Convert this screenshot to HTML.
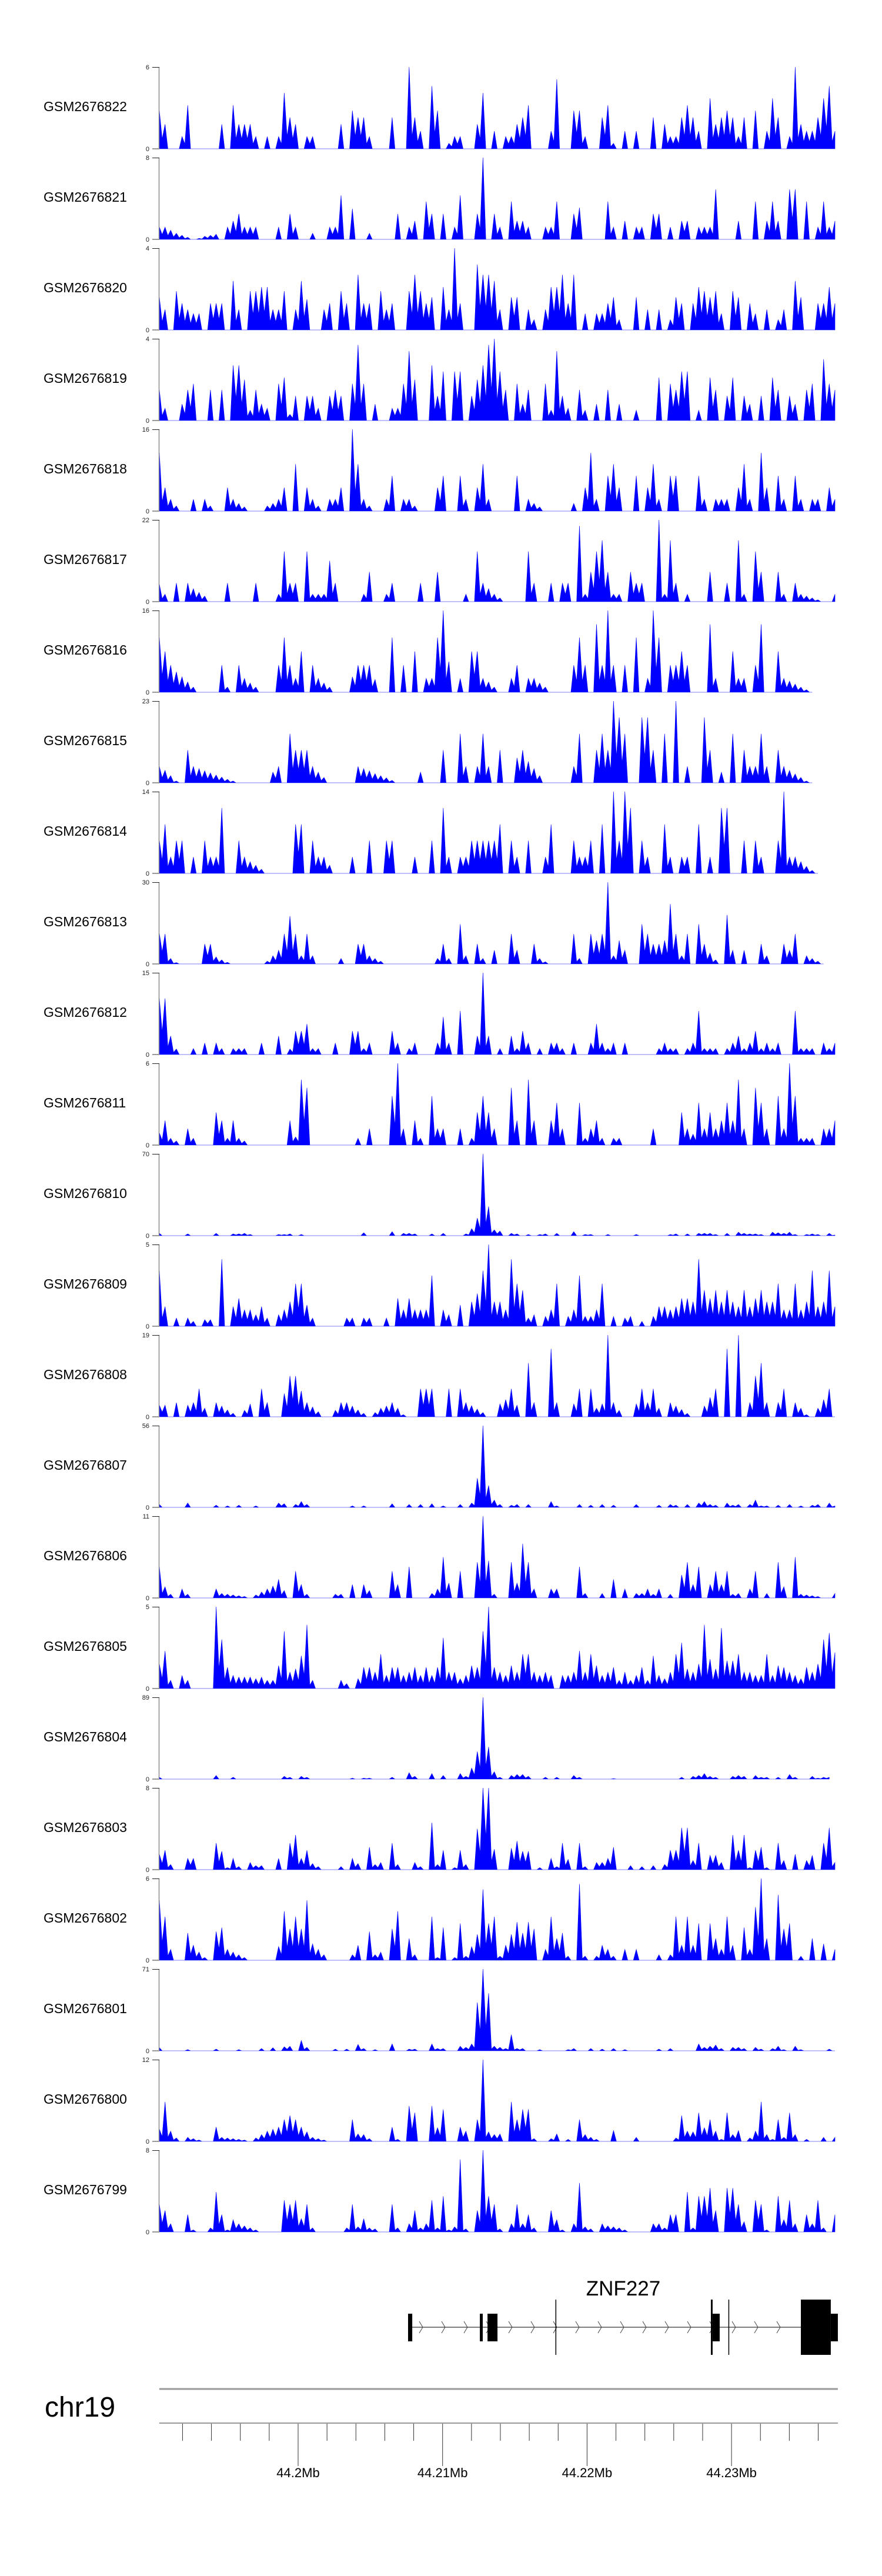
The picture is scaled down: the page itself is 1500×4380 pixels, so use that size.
<!DOCTYPE html>
<html>
<head>
<meta charset="utf-8">
<style>
html,body{margin:0;padding:0;background:#fff;}
body{width:1500px;height:4380px;overflow:hidden;}
svg{display:block;font-family:"Liberation Sans",sans-serif;}
</style>
</head>
<body>
<svg id="fig" width="1500" height="4380" viewBox="0 0 1500 4380" xmlns="http://www.w3.org/2000/svg">
<rect x="0" y="0" width="1500" height="4380" fill="#ffffff"/>
<g id="tracks"></g>
<g id="gene"></g>
<g id="axis"></g>
</svg>
<script>
const sampleNames = ["GSM2676822","GSM2676821","GSM2676820","GSM2676819","GSM2676818","GSM2676817","GSM2676816","GSM2676815","GSM2676814","GSM2676813","GSM2676812","GSM2676811","GSM2676810","GSM2676809","GSM2676808","GSM2676807","GSM2676806","GSM2676805","GSM2676804","GSM2676803","GSM2676802","GSM2676801","GSM2676800","GSM2676799"];
const yMax = [6,8,4,4,16,22,16,23,14,30,15,6,70,5,19,56,11,5,89,8,6,71,12,8];

const sig822 = [[0,2.8],[1,1.8],[4,0.9],[5,3.2],[11,1.8],[13,3.2],[14,1.8],[15,1.8],[16,1.8],[17,0.9],[19,0.9],[21,0.9],[22,4.1],[23,2.3],[24,1.8],[26,0.9],[27,0.9],[32,1.8],[34,2.8],[35,2.3],[36,2.3],[37,0.9],[41,2.3],[44,6],[45,2.3],[46,1.3],[48,4.6],[49,2.8],[51,0.4],[52,0.9],[53,0.9],[56,1.8],[57,4.1],[59,1.3],[61,0.9],[62,0.9],[63,1.8],[64,2.3],[65,3.2],[69,1.3],[70,5.1],[73,2.8],[74,2.8],[75,0.9],[78,2.3],[79,3.2],[80,0.4],[82,1.3],[84,1.3],[87,2.3],[89,1.8],[90,0.9],[91,0.9],[92,2.3],[93,3.2],[94,2.3],[95,1.3],[97,3.7],[98,1.8],[99,2.3],[100,2.8],[101,2.3],[102,0.9],[103,2.3],[105,2.8],[107,1.3],[108,3.7],[109,2.3],[111,0.9],[112,6],[113,1.8],[114,1.3],[115,1.3],[116,2.3],[117,3.7],[118,4.6],[119,1.3]];
const sig821 = [[0,1.2],[1,1.2],[2,0.9],[3,0.6],[4,0.4],[5,0.2],[7,0.1],[8,0.3],[9,0.4],[10,0.5],[12,1.2],[13,1.8],[14,2.5],[15,1.2],[16,1.2],[17,1.2],[21,1.2],[23,2.5],[24,1.2],[27,0.6],[30,1.2],[31,1.2],[32,4.3],[34,3.0],[37,0.6],[42,2.5],[44,1.2],[45,1.8],[47,3.7],[48,2.5],[50,2.5],[52,1.2],[53,4.3],[56,2.5],[57,8],[59,2.5],[60,1.2],[62,3.7],[63,1.8],[64,1.8],[65,1.2],[68,1.2],[69,1.2],[70,3.7],[73,2.5],[74,3.1],[79,3.7],[80,1.2],[82,1.8],[84,1.2],[85,1.2],[87,2.5],[88,2.5],[90,1.2],[92,1.8],[93,1.8],[95,1.2],[96,1.2],[97,1.2],[98,4.9],[102,1.8],[105,3.7],[107,1.8],[108,3.7],[109,1.8],[111,4.9],[112,4.9],[114,3.7],[116,1.2],[117,3.7],[118,1.2],[119,1.8]];
const sig820 = [[0,1.6],[1,1.0],[3,1.9],[4,1.3],[5,1.0],[6,0.8],[7,0.8],[9,1.3],[10,1.3],[11,1.3],[13,2.4],[14,1.0],[16,1.9],[17,1.9],[18,2.1],[19,2.1],[20,1.0],[21,1.0],[22,1.9],[24,1.0],[25,2.4],[26,1.5],[29,1.0],[30,1.3],[32,1.9],[33,1.3],[35,2.7],[36,1.3],[37,1.3],[39,1.9],[40,1.0],[41,1.3],[44,1.9],[45,2.7],[46,1.9],[47,1.3],[48,1.6],[50,2.1],[51,1.0],[52,4.0],[53,1.3],[56,3.2],[57,2.7],[58,2.7],[59,2.4],[60,1.0],[62,1.6],[63,1.6],[65,1.0],[66,0.5],[68,1.0],[69,2.1],[70,2.1],[71,2.7],[72,1.3],[73,2.7],[75,0.8],[77,0.8],[78,0.8],[79,1.3],[80,1.6],[81,0.5],[84,1.6],[86,1.0],[88,1.0],[90,0.5],[91,1.6],[92,1.3],[94,1.3],[95,2.1],[96,1.9],[97,1.6],[98,1.9],[99,0.8],[101,1.9],[102,1.6],[104,1.3],[105,0.8],[107,1.0],[109,0.5],[110,1.0],[112,2.4],[113,1.6],[116,1.3],[117,1.3],[118,2.1],[119,1.3]];
const sig819 = [[0,1.5],[1,0.6],[4,0.8],[5,1.5],[6,1.8],[9,1.5],[11,1.5],[13,2.7],[14,2.7],[15,2.0],[16,0.5],[17,1.5],[18,0.8],[19,0.6],[21,1.8],[22,2.1],[23,0.3],[24,1.2],[26,1.2],[27,1.2],[28,0.6],[30,1.2],[31,1.5],[32,1.2],[34,1.8],[35,3.7],[36,1.8],[38,0.8],[41,0.6],[42,0.6],[43,1.8],[44,3.4],[45,2.0],[48,2.7],[49,1.2],[50,2.4],[52,2.4],[53,2.4],[55,1.2],[56,2.0],[57,2.7],[58,3.7],[59,4.0],[60,2.4],[61,1.5],[63,1.8],[64,0.8],[65,1.5],[68,1.8],[69,0.5],[70,3.4],[71,1.2],[72,0.6],[74,1.5],[75,0.5],[77,0.8],[79,1.5],[81,0.8],[84,0.5],[88,2.1],[90,1.8],[91,1.5],[92,2.4],[93,2.4],[95,0.5],[97,2.1],[98,1.5],[100,1.2],[101,2.1],[103,1.2],[104,0.8],[106,1.2],[108,2.1],[109,1.5],[111,1.2],[112,0.8],[114,1.5],[115,1.8],[117,3.0],[118,1.8],[119,1.5]];
const sig818 = [[0,11.4],[1,4.6],[2,2.3],[3,1],[6,2.3],[8,2.3],[9,1],[12,4.6],[13,2.3],[14,1.5],[15,0.8],[19,1],[20,1.5],[21,2.3],[22,4.6],[24,9.2],[26,4.6],[27,2.3],[28,1],[30,2.3],[31,2.3],[32,4.6],[34,16],[35,9.2],[36,2.3],[37,1],[40,2.3],[41,6.9],[43,2.3],[44,2.3],[45,1],[49,4.6],[50,6.9],[53,6.9],[54,2.3],[56,4.6],[57,9.2],[58,2.3],[63,6.9],[65,2.3],[66,1.5],[67,0.8],[73,1.5],[75,4.6],[76,11.4],[77,2.3],[79,6.9],[80,9.2],[81,4.6],[84,6.9],[86,4.6],[87,9.2],[88,2.3],[90,6.9],[91,6.9],[95,6.9],[96,2.3],[98,2.3],[99,2.3],[100,2.3],[102,4.6],[103,9.2],[104,2.3],[106,11.4],[107,4.6],[109,6.9],[110,2.3],[112,6.9],[113,2.3],[115,2.3],[116,2.3],[118,4.6],[119,2.3]];
const sig817 = [[0,4.7],[1,2],[3,5],[5,5],[6,3.5],[7,2.5],[8,1.5],[12,5],[17,5],[21,2],[22,13.5],[23,5],[24,5],[26,13.5],[27,2],[28,2],[29,2],[30,11],[31,5],[36,2],[37,8],[40,2],[41,5],[46,5],[49,8],[54,2],[56,13.5],[57,5],[58,3.5],[59,2],[60,1],[65,13.5],[66,5],[69,5],[71,5],[72,5],[74,20.4],[75,2],[76,8],[77,13.5],[78,16.5],[79,8],[80,2],[81,2],[83,8],[84,5],[85,5],[88,22],[89,2],[90,16.5],[91,5],[93,2],[97,8],[100,5],[102,16.5],[103,2],[105,13.5],[106,8],[109,8],[110,2],[112,5],[113,2],[114,1.5],[115,1],[116,0.5],[119,2]];
const sig816 = [[0,10.7],[1,8],[2,5.3],[3,4],[4,3],[5,2],[6,1],[11,5.3],[12,1],[14,5.3],[15,2.7],[16,1.8],[17,1],[21,5.3],[22,10.7],[23,5.3],[24,2.7],[25,8],[27,5.3],[28,2.7],[29,1.8],[30,1],[34,3],[35,5.3],[36,5.3],[37,5.3],[38,2.5],[41,10.7],[43,5.3],[45,8],[47,2.7],[48,2.7],[49,10.7],[50,16],[51,6],[53,2.7],[55,8],[56,8],[57,2.7],[58,2],[59,1],[62,2.7],[63,5.3],[65,2.7],[66,2.7],[67,1.8],[68,1],[73,5.3],[74,10.7],[75,5.3],[77,13.3],[78,5.3],[79,16],[80,5.3],[82,5.3],[84,10.7],[86,2.7],[87,16],[88,10.7],[90,5.3],[91,5.3],[92,8],[93,5.3],[97,13.3],[98,2.7],[101,8],[102,2.7],[103,2.7],[105,5.3],[106,13.3],[109,8],[110,2.7],[111,2.2],[112,1.6],[113,1],[114,0.5],[115,0]];
const sig815 = [[0,4.6],[1,3.5],[2,2],[3,0.5],[5,9.2],[6,4.6],[7,4],[8,3.4],[9,2.8],[10,2.2],[11,1.6],[12,1],[13,0.5],[20,3],[21,4.6],[23,13.8],[24,9.2],[25,9.2],[26,9.2],[27,4.6],[28,3],[29,1.5],[35,4.6],[36,4.0],[37,3.4],[38,2.6],[39,2],[40,1.4],[41,0.7],[46,3],[50,9.2],[53,13.8],[54,4.6],[56,4.6],[57,13.8],[58,4.6],[60,9.2],[63,7],[64,9.2],[65,6],[66,4],[67,2],[73,4.6],[74,13.8],[77,9.2],[78,13.8],[79,9.2],[80,23],[81,18.4],[82,13.8],[85,18.4],[86,18.4],[87,9.2],[89,13.8],[91,23],[93,4.6],[96,18.4],[97,9.2],[99,3],[101,13.8],[103,9.2],[104,4.6],[105,4.6],[106,13.8],[107,4.6],[109,9.2],[110,4.6],[111,3.5],[112,2.5],[113,1.5],[114,0.5],[115,0]];
const sig814 = [[0,5.6],[1,8.4],[2,2.8],[3,5.6],[4,5.6],[6,2.8],[8,5.6],[9,2.8],[10,2.8],[11,11.2],[14,5.6],[15,2.8],[16,2],[17,1.4],[18,0.7],[24,8.4],[25,8.4],[27,5.6],[28,2.8],[29,2.8],[30,1.4],[34,2.8],[37,5.6],[40,5.6],[41,5.6],[45,2.8],[48,5.6],[50,11.2],[51,2.8],[53,2.8],[54,2.8],[55,5.6],[56,5.6],[57,5.6],[58,5.6],[59,5.6],[60,8.4],[62,5.6],[63,2.8],[65,5.6],[68,2.8],[69,8.4],[73,5.6],[74,2.8],[75,2.8],[76,5.6],[78,8.4],[80,14],[81,5.6],[82,14],[83,11.2],[85,5.6],[86,2.8],[89,8.4],[90,2.8],[92,2.8],[93,2.8],[95,8.4],[97,2.8],[99,11.2],[100,11.2],[103,5.6],[105,5.6],[106,2.8],[109,5.6],[110,14],[111,2.8],[112,2.8],[113,2],[114,1.2],[115,0.5],[116,0]];
const sig813 = [[0,11.2],[1,11],[2,2],[3,0.5],[8,7.3],[9,7.3],[10,2.6],[11,1.5],[12,0.6],[19,1],[20,3],[21,5],[22,11],[23,17.6],[24,11],[25,3],[26,11],[27,3],[32,2],[35,7.3],[36,7.3],[37,3],[38,2],[39,1],[49,2],[50,7.3],[51,2],[53,14.6],[54,3],[56,7.3],[57,2],[59,5],[62,11],[63,5],[66,7.3],[67,2],[68,0.8],[73,11],[74,2],[76,11],[77,8.6],[78,11],[79,30],[80,3],[81,8.6],[82,5],[85,14.6],[86,11],[87,7.3],[88,7.3],[89,8.6],[90,22],[91,11],[92,3],[93,11],[95,14.6],[96,7.3],[97,4],[98,1.5],[100,18],[101,5],[103,5],[106,7.3],[107,3],[110,7.3],[111,5],[112,11],[114,3],[115,2],[116,1],[117,0]];
const sig812 = [[0,10.3],[1,10.3],[2,3.4],[3,1],[6,1.1],[8,2.1],[10,2.1],[11,1.1],[13,1.1],[14,1.1],[15,1.1],[18,2.1],[21,3.4],[23,1],[24,4.3],[25,4.3],[26,5.6],[27,1.1],[28,1.1],[31,2.1],[34,4.3],[35,4.3],[36,1.1],[37,2.1],[41,4.3],[42,2.1],[44,1.1],[45,2.1],[49,2.1],[50,6.9],[51,2.1],[53,8],[56,3.4],[57,15],[58,3.4],[60,1.1],[62,3.4],[63,1.1],[64,4.3],[65,2.1],[67,1.1],[69,2.1],[70,2.1],[71,1.1],[73,2.1],[76,2.1],[77,5.6],[78,2.1],[79,1.1],[80,2.1],[82,2.1],[88,1.1],[89,2.1],[90,1.1],[91,1.1],[93,1.1],[94,2.1],[95,8],[96,1.1],[97,1.1],[98,1.1],[100,1.1],[101,2.1],[102,3.4],[103,1.1],[104,2.1],[105,4.3],[106,1.1],[107,2.1],[108,1.1],[109,2.1],[112,8],[113,1.1],[114,1.1],[115,1.1],[117,2.1],[118,1.1],[119,2.1]];
const sig811 = [[0,0.9],[1,1.8],[2,0.5],[3,0.3],[5,1.2],[6,0.5],[10,2.4],[11,1.8],[12,0.5],[13,1.8],[14,0.5],[15,0.3],[23,1.8],[24,0.6],[25,4.8],[26,4.2],[35,0.5],[37,1.2],[41,3.6],[42,6],[43,1.2],[45,1.8],[46,0.5],[48,3.6],[49,1.2],[50,1.2],[53,1.2],[55,0.5],[56,2.4],[57,3.6],[58,2.4],[59,1.2],[62,4.2],[63,1.8],[65,4.8],[66,1.8],[69,1.8],[70,3.1],[71,1.2],[74,3.1],[75,0.5],[76,1.2],[77,1.8],[78,0.5],[80,0.5],[81,0.5],[87,1.2],[92,2.4],[93,1.2],[94,0.8],[95,3.1],[96,1.2],[97,2.4],[98,1.2],[99,1.8],[100,3.1],[101,1.8],[102,4.8],[103,1.2],[105,4.2],[106,3.1],[107,1.2],[109,3.6],[110,1.2],[111,6],[112,3.6],[113,0.5],[114,0.5],[115,0.5],[117,1.2],[118,1.2],[119,1.8]];
const sig810 = [[0,2],[5,1.5],[10,2],[13,1.5],[14,1.5],[15,2],[16,1],[21,1],[22,1],[23,1.5],[25,1],[36,2.5],[41,3.5],[43,2],[44,2],[45,1.5],[48,1.5],[50,2],[54,1.5],[55,6],[56,15],[57,70],[58,25],[59,5],[60,4],[62,2],[63,1.5],[65,1],[67,1],[68,1.5],[70,2],[73,3.5],[75,1],[76,1],[79,1],[84,1],[90,1],[91,1.5],[93,1.5],[95,2],[96,2],[97,2],[98,1],[100,2],[102,3],[103,2],[104,1.5],[105,1.5],[106,1],[108,3],[109,2.5],[110,2],[111,3],[112,1],[114,1],[115,1.5],[116,1],[118,2],[119,0.5]];
const sig809 = [[0,3.4],[1,1.2],[3,0.5],[5,0.5],[6,0.3],[8,0.4],[9,0.4],[11,4.1],[13,1.2],[14,1.7],[15,1],[16,1],[17,0.7],[18,1.2],[19,0.5],[21,0.7],[22,1],[23,1.5],[24,2.6],[25,2.6],[26,1.3],[27,0.5],[33,0.5],[34,0.5],[36,0.5],[37,0.5],[40,0.5],[42,1.7],[43,1],[44,1.7],[45,1],[46,1],[47,1],[48,3.1],[50,1],[51,0.7],[53,1.3],[55,1.5],[56,2],[57,3.4],[58,5],[59,1.5],[60,1.5],[61,1],[62,4.1],[63,2.6],[64,2.2],[65,0.5],[66,0.7],[68,0.6],[69,1],[70,2.6],[72,0.6],[73,1],[74,3.1],[75,0.6],[76,0.6],[77,1],[78,2.6],[80,0.6],[82,0.5],[83,0.6],[85,0.3],[87,0.6],[88,1.2],[89,1.2],[90,1],[91,1.2],[92,1.7],[93,1.7],[94,1.5],[95,4.1],[96,2.2],[97,1.7],[98,2.2],[99,1.5],[100,2.2],[101,1.5],[102,1.2],[103,2.2],[104,1.2],[105,1.7],[106,2.2],[107,1.5],[108,1.5],[109,2.6],[110,1],[111,1],[112,2.6],[113,1],[114,1.5],[115,3.4],[116,1.2],[117,1.5],[118,3.4],[119,1.2]];
const sig808 = [[0,2.7],[1,2.7],[2,0],[3,3.3],[4,0],[5,2.7],[6,3.3],[7,6.5],[8,2],[10,3.3],[11,2.5],[12,1.6],[13,0.8],[15,1.5],[16,3],[18,6.5],[19,3.3],[20,0],[22,5.4],[23,9.5],[24,9.5],[25,6],[26,3.3],[27,2.3],[28,1.2],[29,0],[31,1.5],[32,3.3],[33,3.3],[34,2.5],[35,1.6],[36,0.8],[38,1],[39,2],[40,2.5],[41,3.3],[42,2],[43,0.5],[46,6.5],[47,6.5],[48,6.5],[49,0],[51,6.5],[52,0],[53,6.5],[54,3.3],[55,2.6],[56,1.8],[57,1],[58,0],[60,3],[61,4],[62,6.5],[63,2.7],[65,12.5],[66,3.3],[67,0],[69,15.8],[70,3.3],[71,0],[73,3],[74,6.5],[75,0],[76,6.5],[77,2],[78,3],[79,19],[80,3.3],[81,1.5],[82,0],[84,3],[85,6.5],[86,3.3],[87,6.5],[88,2],[90,3.3],[91,2.5],[92,1.7],[93,0.8],[94,0],[96,2.5],[97,4.5],[98,6.5],[99,0],[100,15.8],[101,0],[102,19],[103,0],[104,3.3],[105,9.5],[106,12.5],[107,3.3],[108,0],[109,3.3],[110,6.5],[112,3.3],[113,2],[114,0.5],[115,0],[116,2],[117,4],[118,6.5],[119,0]];
const sig807 = [[0,2],[5,3],[10,1.5],[12,1],[14,1.5],[17,1],[21,3],[22,2.5],[24,2],[25,4],[26,2],[34,1],[36,1],[41,2.5],[44,2],[46,2],[48,2.5],[50,1],[53,2],[55,3],[56,20],[57,56],[58,15],[59,5],[60,2],[62,1.5],[63,2],[65,2],[69,4],[70,1],[74,2],[76,1.5],[78,2],[80,1.5],[84,2],[88,1.5],[90,2],[91,1.5],[93,2],[95,3],[96,4],[97,2],[98,1.5],[100,3],[101,1.5],[102,2],[104,2],[105,5],[106,1],[107,1],[109,1.5],[111,2],[113,1],[115,1.5],[116,2],[118,3],[119,1]];
const sig806 = [[0,4.2],[1,1.5],[2,0.5],[4,1.2],[5,0.5],[10,1.2],[11,0.6],[12,0.5],[13,0.4],[14,0.3],[15,0.2],[17,0.4],[18,0.8],[19,1.2],[20,1.6],[21,2.5],[22,1],[24,3.6],[25,1.8],[26,0.5],[31,0.5],[32,0.5],[34,1.8],[36,1.8],[37,1],[41,3.6],[42,1.8],[44,4.2],[48,0.6],[49,1.2],[50,5.5],[51,2],[53,3.6],[56,4.8],[57,11],[58,5],[59,0.5],[62,4.8],[63,2],[64,7.3],[65,4.8],[66,1.2],[69,1.2],[70,1.2],[74,4.2],[75,0.6],[78,0.6],[80,2.5],[82,1.2],[84,0.6],[85,0.6],[86,1.2],[87,0.5],[88,1.2],[90,0.5],[92,3.1],[93,4.8],[94,1.8],[95,4.2],[97,1.8],[98,3.6],[99,1.8],[100,3.6],[101,0.5],[102,0.6],[104,1.2],[105,3.6],[107,0.6],[109,4.8],[110,1.5],[112,5.5],[113,0.5],[114,0.4],[115,0.3],[116,0.2],[119,0.6]];
const sig805 = [[0,1.5],[1,2.3],[2,0.5],[4,0.8],[5,0.5],[10,5],[11,3],[12,1.3],[13,0.8],[14,0.7],[15,0.7],[16,0.7],[17,0.6],[18,0.7],[19,0.5],[20,0.5],[21,1.4],[22,3.5],[23,1],[24,1.2],[25,2],[26,3.9],[27,0.5],[32,0.5],[33,0.3],[35,0.6],[36,1.3],[37,1.3],[38,1],[39,2.1],[40,0.8],[41,1.3],[42,1.3],[43,0.8],[44,1],[45,1.3],[46,0.8],[47,1.3],[48,0.8],[49,1.3],[50,3.1],[51,1],[52,1],[53,0.6],[54,0.8],[55,1.4],[56,1.3],[57,3.5],[58,5],[59,1.3],[60,1],[61,0.8],[62,1.4],[63,1],[64,2.1],[65,2.1],[66,1],[67,0.8],[68,1],[69,0.8],[71,0.8],[72,0.8],[73,1],[74,2.3],[75,1],[76,2.1],[77,1.4],[78,0.8],[79,1],[80,1.3],[81,0.5],[82,1],[83,0.5],[84,0.8],[85,1.3],[86,0.5],[87,2],[88,0.8],[89,0.6],[90,1],[91,2.1],[92,2.8],[93,1.2],[94,1],[95,1.5],[96,3.9],[97,1.8],[98,1.2],[99,3.7],[100,1.7],[101,1.7],[102,2.1],[103,1],[104,1],[105,0.8],[106,0.8],[107,2.1],[108,0.8],[109,1.4],[110,1.3],[111,1],[112,0.8],[113,0.6],[114,1.3],[115,1],[116,1.5],[117,3],[118,3.4],[119,2.2]];
const sig804 = [[0,2],[10,4],[13,2],[22,3],[23,2],[25,3],[26,2],[34,1],[36,1],[37,1],[41,2],[44,7],[45,3],[48,6],[50,4],[53,6],[54,3],[55,12],[56,30],[57,89],[58,35],[59,8],[60,2],[62,4],[63,5],[64,5],[65,3],[68,2],[70,2],[73,4],[74,2],[80,0.5],[92,2],[94,3],[95,4],[96,6],[97,3],[98,2],[101,3],[102,4],[103,3],[105,4],[106,2],[107,2],[109,2],[111,5],[112,2],[115,3],[116,1],[117,2],[118,2]];
const sig803 = [[0,1.5],[1,1.9],[2,0.5],[5,1.1],[6,1.1],[10,2.6],[11,1.8],[12,0.2],[13,1.1],[14,0.3],[16,0.7],[17,0.4],[18,0.4],[21,1.1],[23,2.6],[24,3.4],[25,1.1],[26,1.9],[27,0.6],[28,0.3],[32,0.3],[34,1.1],[35,0.6],[37,2.2],[38,0.5],[39,0.7],[41,2.6],[42,0.5],[45,0.7],[46,0.3],[48,4.6],[49,0.5],[50,1.9],[52,0.2],[53,1.9],[54,0.5],[56,4],[57,8],[58,8],[59,2],[62,2.1],[63,2.8],[64,1.8],[65,1.8],[67,0.2],[69,1.1],[70,0.3],[71,2.6],[72,1],[74,2.6],[75,0.3],[77,0.7],[78,0.7],[79,1.1],[80,2.2],[83,0.4],[85,0.3],[87,0.4],[89,0.5],[90,1.9],[91,1.9],[92,4.1],[93,4.1],[94,0.9],[95,2.6],[97,1.4],[98,1.4],[99,0.7],[101,3.4],[102,1.9],[103,3.4],[104,0.2],[105,1.9],[106,2.2],[107,0.2],[109,2.6],[110,0.9],[112,1.5],[114,0.9],[115,1.4],[117,2.6],[118,4.1],[119,0.7]];
const sig802 = [[0,4.4],[1,3.2],[2,0.8],[5,2],[6,1.1],[7,0.6],[8,0.2],[10,2.1],[11,2.4],[12,0.8],[13,0.6],[14,0.4],[15,0.2],[21,1],[22,3.6],[23,2.3],[24,3.2],[25,2.3],[26,4.4],[27,1.2],[28,0.8],[29,0.4],[34,0.4],[35,1.1],[37,2.1],[38,0.4],[39,0.6],[41,2.3],[42,3.6],[44,1.6],[45,0.4],[48,3.2],[49,0.2],[50,2.4],[52,0.2],[53,2.7],[54,0.3],[55,1],[56,1.9],[57,5.2],[58,2.7],[59,3.2],[60,0.3],[61,1.1],[62,1.9],[63,2.8],[64,2],[65,2.8],[66,2.3],[68,0.8],[69,3.2],[70,1.6],[71,2],[72,0.3],[74,5.6],[75,0.3],[77,0.3],[78,1.1],[79,0.8],[80,0.3],[82,0.8],[84,0.8],[88,0.4],[90,0.4],[91,3.2],[92,1.1],[93,3.2],[94,1.1],[95,2.7],[97,2.7],[98,1.6],[99,0.8],[100,3.2],[101,1.1],[103,2.4],[104,0.8],[105,3.9],[106,6],[107,1.6],[109,4.8],[110,2.3],[111,2.7],[113,0.3],[115,1.6],[117,1.2],[119,0.8]];
const sig801 = [[0,2.7],[5,1],[10,1.5],[14,1],[18,2],[20,2.7],[22,3.5],[23,4],[25,9],[26,3],[31,1.5],[33,1.5],[35,5.5],[36,2],[38,1],[41,6],[44,1.5],[45,1.5],[48,6],[49,2],[50,2],[53,4],[54,3],[55,6],[56,42],[57,71],[58,50],[59,4],[60,3],[61,2],[62,14],[63,2],[64,2],[67,1],[72,1],[73,2],[76,2],[78,1.5],[80,2],[82,1],[88,1.5],[90,2],[95,6],[96,3],[97,4],[98,5],[99,2],[101,3],[102,3],[103,2],[105,3],[106,1.5],[108,2],[109,4],[110,1],[112,4],[113,1],[118,1.5],[119,0]];
const sig800 = [[0,1.8],[1,5.8],[2,1.5],[3,0.5],[5,0.6],[6,0.4],[7,0.2],[10,2.1],[11,0.6],[12,0.5],[13,0.4],[14,0.3],[15,0.2],[17,0.5],[18,1],[19,1.5],[20,1.8],[21,2.1],[22,3.2],[23,3.8],[24,3.2],[25,2.1],[26,1.4],[27,0.6],[28,0.4],[29,0.2],[34,3.2],[35,1.1],[36,1],[37,0.4],[41,2.1],[42,0.3],[44,5.2],[45,4.2],[48,5.2],[49,2],[50,4.7],[53,2.1],[54,1.5],[56,3.2],[57,12],[58,1.4],[59,1],[60,1.1],[62,5.8],[63,3.2],[64,4.7],[65,4.7],[66,0.4],[69,0.4],[70,1.1],[72,0.3],[74,3.2],[75,1],[76,0.6],[77,0.3],[80,1.6],[84,0.6],[91,0.5],[92,3.8],[93,1.5],[94,1.4],[95,4.2],[96,2],[97,3.2],[98,1.5],[99,0.3],[100,4.2],[101,1],[102,1.6],[104,0.5],[105,1.5],[106,5.8],[107,1],[108,0.3],[109,3.2],[110,0.6],[111,4.2],[112,1],[114,0.3],[117,0.6],[119,0.6]];
const sig799 = [[0,2.7],[1,2.1],[2,0.8],[5,1.7],[6,0.2],[9,0.4],[10,3.9],[11,1.7],[12,0.2],[13,1.2],[14,0.8],[15,0.6],[16,0.4],[17,0.2],[22,3.1],[23,2.7],[24,3.1],[25,1.3],[26,2.7],[27,0.4],[33,0.4],[34,2.7],[35,0.5],[36,1.3],[37,0.4],[38,0.3],[41,2.7],[42,0.4],[44,0.8],[45,2.1],[46,0.4],[47,0.8],[48,3.1],[49,0.4],[50,3.5],[51,0.2],[52,0.5],[53,7.1],[54,0.3],[56,2.1],[57,8],[58,3.5],[59,2.7],[60,0.3],[62,0.8],[63,2.7],[64,0.8],[65,1.7],[66,0.4],[69,2.1],[70,1.2],[71,0.2],[73,0.8],[74,4.8],[75,0.5],[76,0.3],[78,0.8],[79,0.6],[80,0.5],[81,0.4],[82,0.2],[87,0.8],[88,0.8],[89,0.4],[90,1.7],[91,1.7],[93,3.9],[94,0.4],[95,3.5],[96,3.5],[97,4.3],[98,2.1],[100,4.3],[101,4.3],[102,2.7],[103,1],[105,3.1],[106,2.7],[107,0.2],[109,3.5],[110,1.2],[111,3.1],[112,0.8],[114,1.7],[115,0.8],[116,3.1],[117,0.4],[119,1.7]];

const signals = [sig822,sig821,sig820,sig819,sig818,sig817,sig816,sig815,sig814,sig813,sig812,sig811,sig810,sig809,sig808,sig807,sig806,sig805,sig804,sig803,sig802,sig801,sig800,sig799];
const nBins = 120;

const exonStart = [44.20761,44.21258,44.21311,44.21781,44.22857,44.22869,44.22978,44.23480,44.23687];
const exonEnd   = [44.20790,44.21278,44.21380,44.21785,44.22869,44.22918,44.22982,44.23687,44.23736];
const exonKind  = ["mid","mid","mid","tall","tall","mid","tall","tall","mid"];
const geneStart = 44.20761, geneEnd = 44.23480;
const geneName = "ZNF227";
const regionStart = 44.19039, regionEnd = 44.23736;
const minorTicks = [44.192,44.194,44.196,44.198,44.200,44.202,44.204,44.206,44.208,44.210,44.212,44.214,44.216,44.218,44.220,44.222,44.224,44.226,44.228,44.230,44.232,44.234,44.236];
const majorTicks = [44.20,44.21,44.22,44.23];
const majorLabels = ["44.2Mb","44.21Mb","44.22Mb","44.23Mb"];
const chromName = "chr19";

const NS = "http://www.w3.org/2000/svg";
const plotLeft = 271, plotRight = 1420;
const trackTop0 = 114, trackPitch = 154, trackH = 139;
function xBin(b){ return plotLeft + b * (plotRight - plotLeft) / (nBins - 1); }
function yVal(v, max, top){ return top + trackH - (v / max) * trackH; }
function xMb(m){ return 507 + (m - 44.2) * 24570; }
function mk(tag, attrs, parent){
  const e = document.createElementNS(NS, tag);
  for (const k in attrs) e.setAttribute(k, attrs[k]);
  parent.appendChild(e);
  return e;
}

const gT = document.getElementById('tracks');
signals.forEach((sig, i) => {
  const top = trackTop0 + i * trackPitch;
  const base = top + trackH;
  const max = yMax[i];
  const g = mk('g', {}, gT);
  
  

  const lab = mk('text', {x: 74, y: top + 75, 'font-size': 23, fill: '#000'}, g);
  
  
  lab.textContent = sampleNames[i];

  let len = 0;
  sig.forEach(p => { if (p[0] + 1 > len) len = p[0] + 1; });
  const dense = new Array(len).fill(0);
  sig.forEach(p => { dense[p[0]] = Math.max(dense[p[0]], p[1]); });
  let pts = xBin(0).toFixed(1) + ',' + base;
  for (let b = 0; b < len; b++) {
    pts += ' ' + xBin(b).toFixed(1) + ',' + yVal(dense[b], max, top).toFixed(1);
    if (b < len - 1) {
      const mid = 0.4 * Math.min(dense[b], dense[b+1]);
      pts += ' ' + xBin(b + 0.5).toFixed(1) + ',' + yVal(mid, max, top).toFixed(1);
    }
  }
  pts += ' ' + xBin(len - 1).toFixed(1) + ',' + base;
  const poly = mk('polygon', {points: pts, fill: '#0000ff', stroke: '#0000ff', 'stroke-width': 0.6}, g);
  
  

  const ax = mk('line', {x1: plotLeft - 0.5, y1: top, x2: plotLeft - 0.5, y2: base, stroke: '#8c8c8c', 'stroke-width': 1.5}, g);
  
  
  const tTop = mk('line', {x1: 259, y1: top + 0.5, x2: plotLeft, y2: top + 0.5, stroke: '#222', 'stroke-width': 1}, g);
  
  
  const tBot = mk('line', {x1: 259, y1: base, x2: plotLeft, y2: base, stroke: '#999', 'stroke-width': 2}, g);
  
  
  const lMax = mk('text', {x: 254, y: top + 4, 'font-size': 11, 'text-anchor': 'end', fill: '#222'}, g);
  
  
  lMax.textContent = String(max);
  const lZero = mk('text', {x: 254, y: base + 4, 'font-size': 11, 'text-anchor': 'end', fill: '#222'}, g);
  
  
  lZero.textContent = '0';
});

const gG = document.getElementById('gene');
const lineY = 3957;
const gl = mk('line', {x1: xMb(geneStart), y1: lineY, x2: xMb(geneEnd), y2: lineY, stroke: '#333', 'stroke-width': 1.2}, gG);


for (let x = xMb(geneStart) + 22; x < xMb(geneEnd) - 8; x += 38) {
  const ch = mk('polyline', {points: (x-3)+','+(lineY-10)+' '+(x+3)+','+lineY+' '+(x-3)+','+(lineY+10), fill: 'none', stroke: '#444', 'stroke-width': 1}, gG);
  
  
}
exonStart.forEach((s, i) => {
  const x1 = xMb(s), x2 = xMb(exonEnd[i]);
  const tall = exonKind[i] === 'tall';
  const y1 = tall ? 3910 : 3934, y2 = tall ? 4004 : 3981;
  const r = mk('rect', {x: x1, y: y1, width: Math.max(1.5, x2 - x1), height: y2 - y1, fill: '#000'}, gG);
  
  
});
const gn = mk('text', {x: 1060, y: 3903, 'font-size': 35, 'text-anchor': 'middle', fill: '#000'}, gG);


gn.textContent = geneName;

const gA = document.getElementById('axis');
const l1 = mk('line', {x1: xMb(regionStart), y1: 4062, x2: xMb(regionEnd), y2: 4062, stroke: '#999', 'stroke-width': 3}, gA);


const l2 = mk('line', {x1: xMb(regionStart), y1: 4120, x2: xMb(regionEnd), y2: 4120, stroke: '#999', 'stroke-width': 2}, gA);


minorTicks.forEach(m => {
  const isMajor = majorTicks.some(t => Math.abs(t - m) < 1e-6);
  const tk = mk('line', {x1: xMb(m), y1: 4121, x2: xMb(m), y2: isMajor ? 4193 : 4150, stroke: '#333', 'stroke-width': 1}, gA);
  
  
});
majorTicks.forEach((m, i) => {
  const t = mk('text', {x: xMb(m), y: 4212, 'font-size': 22, 'text-anchor': 'middle', fill: '#000'}, gA);
  
  
  t.textContent = majorLabels[i];
});
const cn = mk('text', {x: 76, y: 4109, 'font-size': 48, fill: '#000'}, gA);


cn.textContent = chromName;
</script>
</body>
</html>
